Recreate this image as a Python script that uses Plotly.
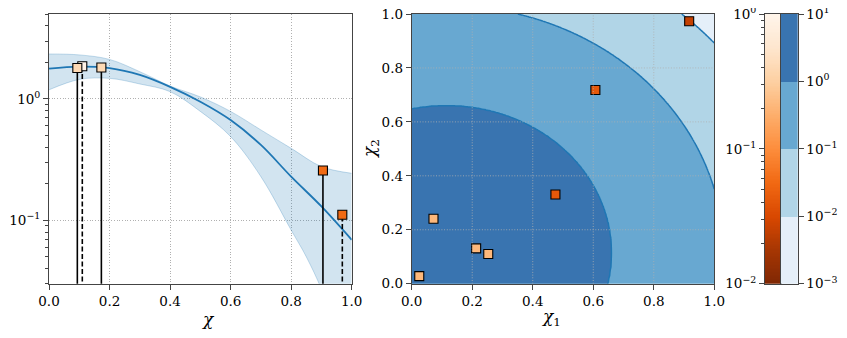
import numpy as np
import plotly.graph_objects as go

# ---- left panel: 1D mean with band ----
chi = [0.0, 0.1, 0.2, 0.3, 0.4, 0.5, 0.6, 0.7, 0.8, 0.9, 1.0]
mean = [1.78, 1.85, 1.80, 1.58, 1.26, 0.95, 0.671, 0.418, 0.229, 0.130, 0.069]
upper = [2.35, 2.31, 2.12, 1.68, 1.28, 1.04, 0.79, 0.556, 0.392, 0.277, 0.244]
chi_lo = [0.0, 0.1, 0.2, 0.3, 0.4, 0.5, 0.6, 0.7, 0.8, 0.85, 0.9, 0.95, 1.0]
lower = [1.19, 1.45, 1.48, 1.33, 1.15, 0.79, 0.49, 0.229, 0.083, 0.050, 0.027, 0.012, 0.004]

# observations on the left panel
obs_chi = [0.0936, 0.110, 0.173, 0.905, 0.969]
obs_val = [1.80, 1.86, 1.82, 0.257, 0.111]
obs_c = [0.40, 0.92, 0.40, 0.057, 0.057]
obs_dash = [False, True, False, False, True]

# ---- middle panel: 2D observations ----
obs2_x1 = [0.025, 0.072, 0.213, 0.253, 0.475, 0.607, 0.917]
obs2_x2 = [0.028, 0.241, 0.131, 0.110, 0.331, 0.718, 0.973]
obs2_c = [0.21, 0.21, 0.21, 0.21, 0.042, 0.042, 0.025]

# contour field: radius at which each level is crossed, around a centre
centre = (0.115, 0.115)
ring_r = [0.0, 0.546, 0.916, 1.178, 1.6]
ring_log = [0.54, 0.0, -1.0, -2.0, -3.9]

levels = [-3, -2, -1, 0, 1]
level_text = ["10<sup>−3</sup>", "10<sup>−2</sup>", "10<sup>−1</sup>", "10<sup>0</sup>", "10<sup>1</sup>"]
blues = ["#e5eff9", "#b1d5e7", "#68a8d1", "#3974b0"]
oranges = ["#7f2704", "#a63603", "#d94801", "#f16913", "#fd8d3c",
           "#fdae6b", "#fdd0a2", "#fee6ce", "#fff5eb"]

orange_cs = [[i / 8, c] for i, c in enumerate(oranges)]
blue_cs = []
for i, c in enumerate(blues):
    blue_cs += [[i / 4, c], [(i + 1) / 4, c]]

# the page body adds an 8px margin round the figure
W, H, PAD = 831, 322, 8


def px(x):
    return (x - PAD) / W


def py(y):
    return 1 - (y - PAD) / H


font = dict(family="DejaVu Serif", size=13.5, color="black")
spine = "#444444"
grid = "#b0b0b0"
gdash = "1px,1.7px"
blue = "#1f77b4"

fig = go.Figure()

# band
fig.add_trace(go.Scatter(x=chi_lo, y=lower, mode="lines", line_shape="spline",
                         line=dict(color="rgba(31,119,180,0.25)", width=1),
                         showlegend=False, hoverinfo="skip"))
fig.add_trace(go.Scatter(x=chi, y=upper, mode="lines", line_shape="spline",
                         line=dict(color="rgba(31,119,180,0.25)", width=1),
                         fill="tonexty", fillcolor="rgba(31,119,180,0.2)",
                         showlegend=False, hoverinfo="skip"))
fig.add_trace(go.Scatter(x=chi, y=mean, mode="lines", line_shape="spline",
                         line=dict(color=blue, width=1.8), showlegend=False))

# stems + markers, dashed ones first so they sit behind
for dashed in (True, False):
    idx = [i for i in range(len(obs_chi)) if obs_dash[i] == dashed]
    sx, sy = [], []
    for i in idx:
        sx += [obs_chi[i], obs_chi[i], None]
        sy += [0.01, obs_val[i], None]
    fig.add_trace(go.Scatter(x=sx, y=sy, mode="lines",
                             line=dict(color="black", width=1.6,
                                       dash="5px,2.5px" if dashed else "solid"),
                             showlegend=False, hoverinfo="skip"))
    fig.add_trace(go.Scatter(
        x=[obs_chi[i] for i in idx], y=[obs_val[i] for i in idx], mode="markers",
        marker=dict(symbol="square", size=9,
                    color=np.log10([obs_c[i] for i in idx]),
                    colorscale=orange_cs, cmin=-2, cmax=0,
                    line=dict(color="black", width=1.1)),
        showlegend=False))

# contour field
g = np.linspace(0, 1, 241)
X, Y = np.meshgrid(g, g)
Z = np.interp(np.hypot(X - centre[0], Y - centre[1]), ring_r, ring_log)
fig.add_trace(go.Contour(x=g, y=g, z=Z, xaxis="x2", yaxis="y2",
                         contours=dict(start=-3, end=1, size=1, coloring="fill"),
                         colorscale=blue_cs, zmin=-3, zmax=1,
                         line=dict(color=blue, width=1.5, smoothing=1),
                         showscale=False, hoverinfo="skip"))
fig.add_trace(go.Scatter(
    x=obs2_x1, y=obs2_x2, xaxis="x2", yaxis="y2", mode="markers",
    marker=dict(symbol="square", size=9, color=np.log10(obs2_c),
                colorscale=orange_cs, cmin=-2, cmax=0,
                line=dict(color="black", width=1.1)),
    showlegend=False))

# colour bars drawn as heatmaps in their own axes
edges = np.linspace(-2, 0, 201)
fig.add_trace(go.Heatmap(x=[0, 1], y=edges, z=[[v] for v in (edges[:-1] + edges[1:]) / 2],
                         colorscale=orange_cs, zmin=-2, zmax=0, showscale=False,
                         xaxis="x3", yaxis="y3", hoverinfo="skip"))
fig.add_trace(go.Heatmap(x=[0, 1], y=levels,
                         z=[[(levels[i] + levels[i + 1]) / 2] for i in range(4)],
                         colorscale=blue_cs, zmin=-3, zmax=1, showscale=False,
                         xaxis="x4", yaxis="y4", hoverinfo="skip"))

ydom = [py(283.7), py(14)]
tick01 = [0, 0.2, 0.4, 0.6, 0.8, 1.0]
tick01_text = ["%.1f" % t for t in tick01]
frame = dict(showline=True, mirror=True, linecolor=spine, linewidth=1.1,
             ticks="outside", ticklen=4.9, tickwidth=1.1, tickcolor=spine,
             tickfont=font, zeroline=False, automargin=False,
             ticklabeloverflow="allow")
bar_x = dict(range=[0, 1], showline=True, mirror=True, linecolor=spine, linewidth=1.1,
             showticklabels=False, ticks="", showgrid=False, zeroline=False,
             automargin=False)

minor_log = [k * 10.0 ** e for e in (-2, -1, 0) for k in range(2, 10)]
minor_log = [v for v in minor_log if 0.03 <= v <= 5]
minor_cb = [np.log10(k) + e for e in (-2, -1) for k in range(2, 10)]

fig.update_layout(
    template="none",
    width=W, height=H, margin=dict(l=0, r=0, t=0, b=0, autoexpand=False),
    paper_bgcolor="white", plot_bgcolor="white", showlegend=False,
    xaxis=dict(domain=[px(49), px(351.7)], range=[0, 1], anchor="y",
               tickvals=tick01, ticktext=tick01_text,
               showgrid=True, gridcolor=grid, griddash=gdash, gridwidth=0.8, **frame),
    yaxis=dict(domain=ydom, type="log", range=[np.log10(0.03), np.log10(5.02)], anchor="x",
               tickvals=[0.1, 1], ticktext=["10<sup>−1</sup>", "10<sup>0</sup>"],
               showgrid=True, gridcolor=grid, griddash=gdash, gridwidth=0.8,
               minor=dict(tickmode="array", tickvals=minor_log, ticklen=2.8,
                          tickwidth=0.8, tickcolor=spine, showgrid=False),
               **frame),
    xaxis2=dict(domain=[px(411.7), px(714.3)], range=[0, 1], anchor="y2",
                tickvals=tick01, ticktext=tick01_text, showgrid=False,
                layer="above traces", **frame),
    yaxis2=dict(domain=ydom, range=[0, 1], anchor="x2",
                tickvals=tick01, ticktext=tick01_text, showgrid=False,
                layer="above traces", **frame),
    xaxis3=dict(domain=[px(765), px(781)], anchor="y3", **bar_x),
    yaxis3=dict(domain=ydom, range=[-2, 0], anchor="x3", side="left",
                tickvals=[-2, -1, 0], ticktext=level_text[1:4], showgrid=False,
                minor=dict(tickmode="array", tickvals=minor_cb, ticklen=2.8,
                           tickwidth=0.8, tickcolor=spine, showgrid=False),
                **frame),
    xaxis4=dict(domain=[px(781), px(797.7)], anchor="y4", **bar_x),
    yaxis4=dict(domain=ydom, range=[-3, 1], anchor="x4", side="right",
                tickvals=levels, ticktext=level_text, showgrid=False, **frame),
)

# grid of the middle panel sits above the filled contours
for t in tick01[1:-1]:
    fig.add_shape(type="line", xref="x2", yref="y2", x0=t, x1=t, y0=0, y1=1,
                  line=dict(color=grid, width=0.8, dash=gdash), layer="above")
    fig.add_shape(type="line", xref="x2", yref="y2", x0=0, x1=1, y0=t, y1=t,
                  line=dict(color=grid, width=0.8, dash=gdash), layer="above")

title_font = dict(family="DejaVu Serif", size=17, color="black")
fig.add_annotation(text="<i>χ</i>", x=px((49 + 351.7) / 2), y=py(331),
                   xref="paper", yref="paper", showarrow=False, font=title_font)
fig.add_annotation(text="<i>χ</i><sub>1</sub>", x=px((411.7 + 714.3) / 2), y=py(331),
                   xref="paper", yref="paper", showarrow=False, font=title_font)
fig.add_annotation(text="<i>χ</i><sub>2</sub>", x=px(370), y=py(149),
                   xref="paper", yref="paper", showarrow=False, textangle=-90,
                   font=title_font)

fig.write_html("out.html")
